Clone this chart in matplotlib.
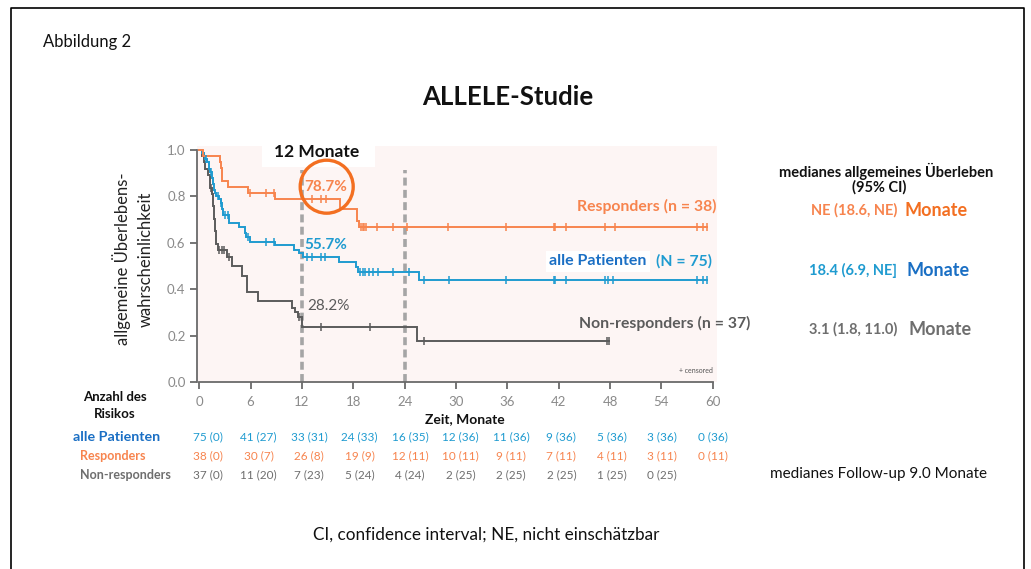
import matplotlib
matplotlib.use("Agg")
import matplotlib.pyplot as plt
from matplotlib.patches import Rectangle, Ellipse

plt.rcParams['font.family'] = ['Lato', 'DejaVu Sans']

W, H = 1031, 569

# ---- Kaplan-Meier step data (time in months, survival after the event) ----
all_t = [0.3, 0.5, 0.7, 0.9, 1.1, 1.3, 1.5, 1.6, 1.7, 1.8, 2.0, 2.3, 2.5, 2.7, 2.8,
         3.5, 4.7, 5.3, 5.5, 5.9, 8.9, 11.1, 11.6, 12.1, 16.3, 18.3, 18.5, 25.7]
all_s = [0.987, 0.973, 0.960, 0.947, 0.920, 0.907, 0.880, 0.853, 0.827, 0.813, 0.800,
         0.787, 0.773, 0.747, 0.720, 0.684, 0.670, 0.641, 0.627, 0.605, 0.591, 0.570,
         0.557, 0.537, 0.519, 0.497, 0.476, 0.440]
all_cens = [0.8, 1.4, 2.15, 2.5, 2.95, 3.3, 5.75, 7.8, 8.7, 12.6, 13.2, 14.2, 14.7,
            18.8, 19.1, 19.4, 19.8, 20.3, 20.9, 22.6, 24.5, 26.3, 29.2, 35.9, 41.4,
            41.6, 42.8, 47.4, 47.8, 48.4, 58.2, 58.9, 59.3]

resp_t = [0.4, 2.4, 2.5, 2.6, 2.7, 3.4, 5.7, 8.9, 16.4, 18.4, 18.7]
resp_s = [0.974, 0.947, 0.921, 0.895, 0.868, 0.842, 0.816, 0.787, 0.746, 0.692, 0.667]
resp_cens = [5.9, 7.8, 8.7, 13.2, 14.2, 14.8, 18.9, 19.1, 19.3, 19.5, 20.8, 22.6,
             24.3, 29.1, 35.9, 41.4, 41.6, 42.8, 47.4, 48.6, 58.2, 58.9, 59.3]

non_t = [0.3, 0.5, 0.7, 1.0, 1.2, 1.3, 1.5, 1.6, 1.7, 1.8, 1.9, 2.0, 2.2, 3.2, 3.8,
         5.0, 5.6, 6.9, 10.8, 11.2, 11.5, 12.05, 25.5]
non_s = [0.973, 0.946, 0.919, 0.892, 0.865, 0.838, 0.810, 0.757, 0.703, 0.649, 0.622,
         0.595, 0.568, 0.538, 0.500, 0.458, 0.389, 0.350, 0.318, 0.300, 0.282, 0.236,
         0.178]
non_cens = [1.4, 2.35, 2.6, 2.9, 3.5, 11.7, 14.2, 19.9, 26.3, 47.6, 47.9]

# ---- landmark values at 12 months ----
land_resp, land_all, land_non = 78.7, 55.7, 28.2

# ---- numbers at risk (events) ----
risk_times = [0, 6, 12, 18, 24, 30, 36, 42, 48, 54, 60]
risk_all = ["75 (0)", "41 (27)", "33 (31)", "24 (33)", "16 (35)", "12 (36)",
            "11 (36)", "9 (36)", "5 (36)", "3 (36)", "0 (36)"]
risk_resp = ["38 (0)", "30 (7)", "26 (8)", "19 (9)", "12 (11)", "10 (11)",
             "9 (11)", "7 (11)", "4 (11)", "3 (11)", "0 (11)"]
risk_non = ["37 (0)", "11 (20)", "7 (23)", "5 (24)", "4 (24)", "2 (25)",
            "2 (25)", "2 (25)", "1 (25)", "0 (25)"]

x_ticks = list(range(0, 61, 6))
y_ticks = [0.0, 0.2, 0.4, 0.6, 0.8, 1.0]

C_RESP = '#f7844e'
C_ALL = '#1f9bd0'
C_NON = '#5b5b5b'
C_BLUE_DARK = '#1a6fc4'
C_ORANGE = '#f36f21'
C_GREY_TXT = '#6e6e6e'


def step_xy(times, surv, end):
    xs, ys = [0.0], [1.0]
    prev = 1.0
    for t, s in zip(times, surv):
        xs += [t, t]
        ys += [prev, s]
        prev = s
    xs.append(end)
    ys.append(prev)
    return xs, ys


def surv_at(times, surv, t0):
    val = 1.0
    for t, s in zip(times, surv):
        if t <= t0:
            val = s
    return val


fig = plt.figure(figsize=(W / 100, H / 100), dpi=100)

# plot axes: x from -0.3 to 60.5 months, y 0 to 1.017
x0, x1 = -0.3, 60.5
ax_left, ax_right = 196.7, 717.0
ax_bot, ax_top = 382.0, 146.0
ax = fig.add_axes([ax_left / W, 1 - ax_bot / H, (ax_right - ax_left) / W,
                   (ax_bot - ax_top) / H], zorder=1)
ax.set_facecolor('#fdf5f4')
ax.set_xlim(x0, x1)
ax.set_ylim(0, 1.017)

for sp in ['top', 'right']:
    ax.spines[sp].set_visible(False)
for sp in ['left', 'bottom']:
    ax.spines[sp].set_color('#6a6a6a')
    ax.spines[sp].set_linewidth(1.3)
ax.spines['left'].set_bounds(0, 1.0)
ax.spines['bottom'].set_bounds(0, 60)
ax.set_xticks(x_ticks)
ax.set_yticks(y_ticks)
ax.set_yticklabels([f"{v:.1f}" for v in y_ticks])
ax.tick_params(axis='both', colors='#6a6a6a', labelcolor='#8a8a8a', labelsize=9.5,
               length=5, width=1.3, direction='out')
ax.tick_params(axis='x', pad=5)
ax.tick_params(axis='y', pad=3)

# 12 and 24 month reference lines
for tm in (12, 24):
    ax.plot([tm, tm], [0, 0.914], color='#a5a5a5', lw=2.6, ls=(0, (2.2, 1.2)),
            zorder=1)

for times, surv, cens, col in [(non_t, non_s, non_cens, C_NON),
                               (all_t, all_s, all_cens, C_ALL),
                               (resp_t, resp_s, resp_cens, C_RESP)]:
    end = max(cens[-1], times[-1])
    xs, ys = step_xy(times, surv, end)
    ax.plot(xs, ys, color=col, lw=1.4, zorder=3, solid_joinstyle='miter')
    cy = [surv_at(times, surv, c) for c in cens]
    ax.plot(cens, cy, ls='none', marker='|', ms=5.5, mew=1.1, color=col, zorder=4)

# 12-month landmark labels
ax.text(12.3, surv_at(resp_t, resp_s, 12) + 0.055, f"{land_resp}%", color=C_RESP,
        fontsize=11, fontweight='bold', va='center', ha='left', zorder=6)
ax.text(12.3, surv_at(all_t, all_s, 12) + 0.035, f"{land_all}%", color=C_ALL,
        fontsize=11, fontweight='bold', va='center', ha='left', zorder=6)
ax.text(12.6, surv_at(non_t, non_s, 12) + 0.045, f"{land_non}%", color=C_NON,
        fontsize=11, va='center', ha='left', zorder=6)

# group labels
ax.text(60.5, 0.755, "Responders (n = 38)", color=C_RESP, fontsize=11.3,
        fontweight='bold', ha='right', va='center')
ax.text(59.9, 0.52, "(N = 75)", color=C_ALL, fontsize=11.3, fontweight='bold',
        ha='right', va='center')
ax.text(52.3, 0.52, "alle Patienten", color=C_BLUE_DARK, fontsize=11.5,
        fontweight='bold', ha='right', va='center',
        bbox=dict(facecolor='white', edgecolor='none', pad=2.5))
ax.text(64.4, 0.253, "Non-responders (n = 37)", color=C_NON, fontsize=11.3,
        fontweight='bold', ha='right', va='center', clip_on=False)
ax.text(60.0, 0.048, "+ censored", color='#555555', fontsize=5, ha='right',
        va='center')

# overlay layer in pixel coordinates for annotations and the frame
ov = fig.add_axes([0, 0, 1, 1], zorder=5)
ov.set_xlim(0, W)
ov.set_ylim(H, 0)
ov.axis('off')
ov.patch.set_alpha(0)
ov.plot([11, 11, 1024, 1024], [H + 5, 8, 8, H + 5], color='black', lw=1.2)


def ftext(x, y, s, **kw):
    ov.text(x, y, s, **kw)


# circle around the responder landmark
ov.add_patch(Ellipse((326.7, 186.7), 53, 53, fill=False, ec=C_ORANGE, lw=2.4,
                     zorder=10))

# "12 Monate" box
ov.add_patch(Rectangle((262, 139), 113, 28, facecolor='white', edgecolor='none',
                       zorder=8))
ftext(317, 152, "12 Monate", fontsize=12.5, fontweight='bold', ha='center',
      va='center', color='#111111', zorder=9)

ftext(43, 42, "Abbildung 2", fontsize=12, ha='left', va='center', color='#111111')
ftext(508, 97, "ALLELE-Studie", fontsize=18.5, fontweight='bold', ha='center',
      va='center', color='#111111')

ftext(122, 259, "allgemeine Überlebens-", fontsize=12, rotation=90, ha='center',
      va='center', color='#222222')
ftext(146, 259, "wahrscheinlichkeit", fontsize=12, rotation=90, ha='center',
      va='center', color='#222222')

ftext(465, 419, "Zeit, Monate", fontsize=10, fontweight='bold', ha='center',
      va='center', color='#111111')

# right-hand medians
ftext(886, 171, "medianes allgemeines Überleben", fontsize=10.5, fontweight='bold',
      ha='center', va='center', color='#111111')
ftext(879, 187, "(95% CI)", fontsize=10.5, fontweight='bold', ha='center',
      va='center', color='#111111')
ftext(897, 210, "NE (18.6, NE)", fontsize=10.5, fontweight='bold', ha='right',
      va='center', color=C_RESP)
ftext(905, 210, "Monate", fontsize=13, fontweight='bold', ha='left',
      va='center', color=C_ORANGE)
ftext(897, 270, "18.4 (6.9, NE]", fontsize=10.5, fontweight='bold', ha='right',
      va='center', color=C_ALL)
ftext(906, 270, "Monate", fontsize=13, fontweight='bold', ha='left',
      va='center', color=C_BLUE_DARK)
ftext(897, 329, "3.1 (1.8, 11.0)", fontsize=10.5, fontweight='bold', ha='right',
      va='center', color=C_GREY_TXT)
ftext(908, 329, "Monate", fontsize=13, fontweight='bold', ha='left',
      va='center', color=C_GREY_TXT)

ftext(770, 474, "medianes Follow-up 9.0 Monate", fontsize=11, ha='left',
      va='center', color='#111111')
ftext(486, 535, "CI, confidence interval; NE, nicht einschätzbar", fontsize=12.3,
      ha='center', va='center', color='#111111')

# numbers-at-risk table
ftext(115, 397, "Anzahl des", fontsize=9.5, fontweight='bold', ha='center',
      va='center', color='#111111')
ftext(115, 414, "Risikos", fontsize=9.5, fontweight='bold', ha='center',
      va='center', color='#111111')
ftext(73, 437, "alle Patienten", fontsize=10.3, fontweight='bold', ha='left',
      va='center', color=C_BLUE_DARK)
ftext(80, 456, "Responders", fontsize=9, fontweight='bold', ha='left',
      va='center', color=C_RESP)
ftext(80, 475, "Non-responders", fontsize=9, fontweight='bold', ha='left',
      va='center', color=C_GREY_TXT)

px_per_month = (ax_right - ax_left) / (x1 - x0)
for row, y, col in [(risk_all, 437, C_ALL), (risk_resp, 456, C_RESP),
                    (risk_non, 475, C_GREY_TXT)]:
    for t, lab in zip(risk_times, row):
        shift = 9 * (1 - t / 60)
        xp = ax_left + (t - x0) * px_per_month + shift
        ftext(xp, y, lab, fontsize=8.5, ha='center', va='center', color=col)

fig.savefig("out.png", dpi=100, facecolor='white')
